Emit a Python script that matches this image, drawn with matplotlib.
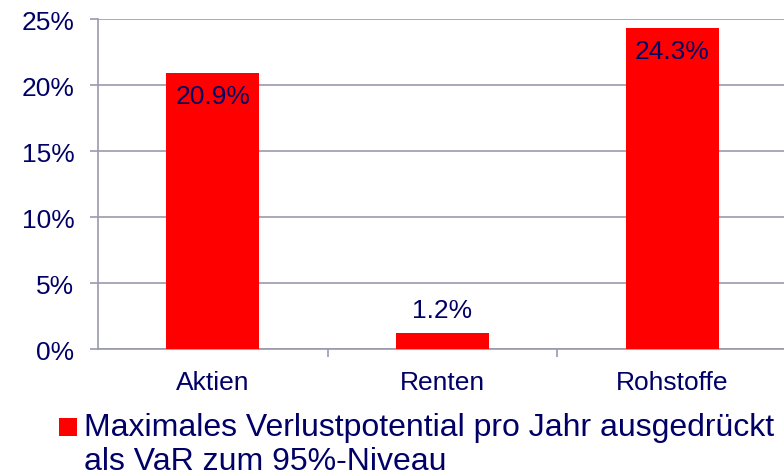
import matplotlib
matplotlib.use('Agg')
import matplotlib.pyplot as plt
from matplotlib.patches import Rectangle
from matplotlib.ticker import FuncFormatter, FixedLocator

categories = ['Aktien', 'Renten', 'Rohstoffe']
values = [20.9, 1.2, 24.3]
labels = ['20.9%', '1.2%', '24.3%']
series_name = 'Maximales Verlustpotential pro Jahr ausgedrückt\nals VaR zum 95%-Niveau'

navy = '#000066'
grid_col = '#9a9aae'
plt.rcParams['font.family'] = ['Liberation Sans', 'DejaVu Sans']

W, H = 784, 477
fig = plt.figure(figsize=(W / 100, H / 100), dpi=100)
ax = fig.add_axes([98/W, 127/H, 689/W, 330/H])

x = list(range(len(categories)))
bars = ax.bar(x, values, width=0.405, color='#ff0000', zorder=3)

ax.set_xlim(-0.5, 2.5)
ax.set_ylim(0, 25)
ax.set_yticks([0, 5, 10, 15, 20, 25])
ax.yaxis.set_major_formatter(FuncFormatter(lambda v, p: '%d%%' % v))
ax.grid(axis='y', color=grid_col, lw=1.2, zorder=0)
ax.set_axisbelow(True)

for s in ['top', 'right']:
    ax.spines[s].set_visible(False)
for s in ['left', 'bottom']:
    ax.spines[s].set_color(grid_col)
    ax.spines[s].set_linewidth(1.2)

ax.set_xticks(x)
ax.set_xticklabels(categories)
ax.xaxis.set_minor_locator(FixedLocator([0.5, 1.5]))
ax.tick_params(axis='x', which='major', length=0, pad=15, labelsize=19, labelcolor=navy)
ax.tick_params(axis='x', which='minor', length=6, width=1.2, color=grid_col)
ax.tick_params(axis='y', length=6, width=1.2, color=grid_col, pad=11, labelsize=19, labelcolor=navy)

for i, (v, t) in enumerate(zip(values, labels)):
    if v > 5:
        ax.annotate(t, (i, v), xytext=(0, -8), textcoords='offset points',
                    ha='center', va='top', fontsize=19, color=navy, zorder=4)
    else:
        ax.annotate(t, (i, v), xytext=(0, 8), textcoords='offset points',
                    ha='center', va='bottom', fontsize=19, color=navy, zorder=4)

# legend (drawn by hand so the square sits on the first line)
fig.patches.append(Rectangle((59/W, 1 - 437/H), 18/W, 18/H, transform=fig.transFigure,
                             facecolor=bars[0].get_facecolor(), edgecolor='none'))
fig.text(84/W, 1 - 413/H, series_name, ha='left', va='top', fontsize=23,
         color=navy, linespacing=1.18)

fig.savefig('out.png', dpi=100)
